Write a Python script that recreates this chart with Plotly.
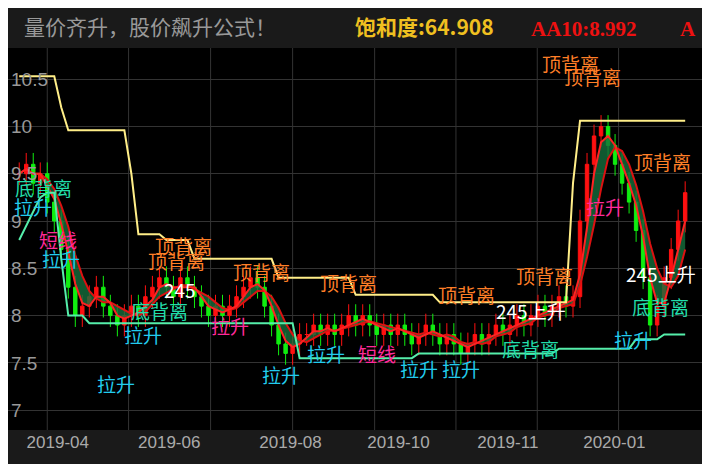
import plotly.graph_objects as go
import pandas as pd

closes = [9.5,9.6,9.4,9.5,9.2,9.0, 8.7,8.3,8.0,8.1, 8.2,8.3,8.1,8.0,7.9,
          8.0,8.1,8.0,8.2,8.3, 8.4,8.3,8.2,8.4,8.3,8.2,8.1, 8.0,8.1,8.0,8.1,
          8.2,8.3,8.4,8.3,8.1, 7.9,7.7,7.6,7.7,7.8, 7.8,7.9,7.8,7.9,7.8,7.9,
          8.0,7.9,8.0,7.9,7.8,7.9, 7.8,7.9,7.8,7.7,7.8,7.9,7.8, 7.7,7.8,7.7,7.6,7.7,7.8,
          7.7,7.8,7.9,7.8,7.9, 8.0,7.9,8.0,8.1,8.0,8.1, 8.2,8.1,8.2,
          9.0,9.6,9.9,10.0,9.8, 9.6,9.4,9.2,8.9, 8.4,7.9,8.1,8.4, 8.7,9.0,9.3]
resist = [10.53]*6 + [10.2, 9.96] + [9.96]*8 + [9.5, 8.86] + [8.86]*3 + [8.8]*4 + [8.6]*12 + [8.4]*11 + [8.22]*12 + [8.14]*19 + [9.4, 10.06] + [10.06]*15
support = [8.8,8.95,9.1,9.25,9.3,9.3,8.6,8.0,8.0,8.0] + [7.92]*30 + [7.55]*17 + [7.6]*20 + [7.65]*11 + [7.75]*4 + [7.8]*4
tick_pos = [5.5, 21.4, 38.7, 54.1, 69.7, 84.9]
tick_text = ["2019-04", "2019-06", "2019-08", "2019-10", "2019-11", "2020-01"]
grid_pos = [4.0, 15.6, 27.3, 39.0, 50.7, 62.3, 73.9, 85.5]
labels = [  # (index, price, text, color)
    (23.5,8.74,"顶背离","#ff7f27"),(22.5,8.58,"顶背离","#ff7f27"),(34.5,8.47,"顶背离","#ff7f27"),
    (47,8.35,"顶背离","#ff7f27"),(63.8,8.22,"顶背离","#ff7f27"),(75,8.42,"顶背离","#ff7f27"),
    (78.7,10.67,"顶背离","#ff7f27"),(81.8,10.53,"顶背离","#ff7f27"),(91.8,9.63,"顶背离","#ff7f27"),
    (17.6,7.8,"拉升","#22ccee"),(13.8,7.28,"拉升","#22ccee"),(37.3,7.38,"拉升","#22ccee"),
    (43.8,7.6,"拉升","#22ccee"),(57,7.44,"拉升","#22ccee"),(63,7.44,"拉升","#22ccee"),
    (87.6,7.75,"拉升","#22ccee"),(6,8.6,"拉升","#22ccee"),(2,9.15,"拉升","#22ccee"),
    (5.5,8.8,"短线","#ff2a9a"),(51,7.6,"短线","#ff2a9a"),(30,7.9,"拉升","#ff2a9a"),(83.5,9.15,"拉升","#ff2a9a"),
    (3.5,9.35,"底背离","#22ddaa"),(91.5,8.1,"底背离","#22ddaa"),(20,8.05,"底背离","#22ddaa"),(73,7.65,"底背离","#22ddaa"),
    (91.5,8.45,"245上升","#ffffff"),(73,8.05,"245上升","#ffffff"),(23,8.28,"245","#ffffff"),
]

opens = [closes[0]] + closes[:-1]
highs = [max(o, c) + 0.12 for o, c in zip(opens, closes)]
lows = [min(o, c) - 0.12 for o, c in zip(opens, closes)]
x = list(range(len(closes)))
s = pd.Series(closes)
ma5 = s.rolling(3, min_periods=1).mean()
ma10 = s.rolling(5, min_periods=1).mean()

fig = go.Figure()
fig.add_trace(go.Scatter(x=x, y=ma10, mode="lines", line=dict(color="#dd1111", width=2)))
fig.add_trace(go.Scatter(x=x, y=ma5, mode="lines", line=dict(color="#ff2222", width=2),
                         fill="tonexty", fillcolor="rgba(20,110,60,0.8)"))
fig.add_trace(go.Candlestick(x=x, open=opens, high=highs, low=lows, close=closes,
    increasing=dict(line=dict(color="#ff1010", width=1), fillcolor="#ff1010"),
    decreasing=dict(line=dict(color="#10ee10", width=1), fillcolor="#10ee10"),
    whiskerwidth=0))
fig.add_trace(go.Scatter(x=x, y=resist, mode="lines", line=dict(color="#ffee88", width=2)))
fig.add_trace(go.Scatter(x=x, y=support, mode="lines", line=dict(color="#55eeaa", width=2)))

for xi, yi, t, c in labels:
    fig.add_annotation(x=xi, y=yi, text=t, showarrow=False, font=dict(color=c, size=19, family="Noto Sans CJK SC"))
for g in grid_pos:
    fig.add_shape(type="line", x0=g, x1=g, y0=0, y1=1, yref="paper", line=dict(color="#333333", width=1), layer="below")

hdr = dict(xref="paper", yref="paper", y=1, yanchor="bottom", yshift=5, xanchor="left", showarrow=False)
fig.add_annotation(x=0.02, text="量价齐升，股价飙升公式！", font=dict(color="#999999", size=21, family="Noto Sans CJK SC"), **hdr)
fig.add_annotation(x=0.497, text="<b>饱和度:64.908</b>", font=dict(color="#f0c020", size=21, family="Noto Sans CJK SC"), **hdr)
fig.add_annotation(x=0.75, text="<b>AA10:8.992</b>", font=dict(color="#ee1111", size=21, family="Liberation Serif"), **hdr)
fig.add_annotation(x=0.965, text="<b>A</b>", font=dict(color="#ee1111", size=21, family="Liberation Serif"), **hdr)

fig.update_layout(
    width=694, height=456, margin=dict(l=0, r=0, t=40, b=34),
    paper_bgcolor="#1a1a1a", plot_bgcolor="#000000", showlegend=False,
    xaxis=dict(range=[-1.6, 97.4], tickvals=tick_pos, ticktext=tick_text, showgrid=False,
               rangeslider=dict(visible=False), tickfont=dict(color="#aaaaaa", size=17, family="Liberation Sans"),
               zeroline=False),
    yaxis=dict(range=[6.79, 10.83], tickvals=[7, 7.5, 8, 8.5, 9, 9.5, 10, 10.5],
               ticktext=["7", "7.5", "8", "8.5", "9", "9.5", "10", "10.5"],
               ticklabelposition="inside", gridcolor="#333333", zeroline=False,
               tickfont=dict(color="#999999", size=19, family="Liberation Sans")),
)
fig.write_html("out.html")
